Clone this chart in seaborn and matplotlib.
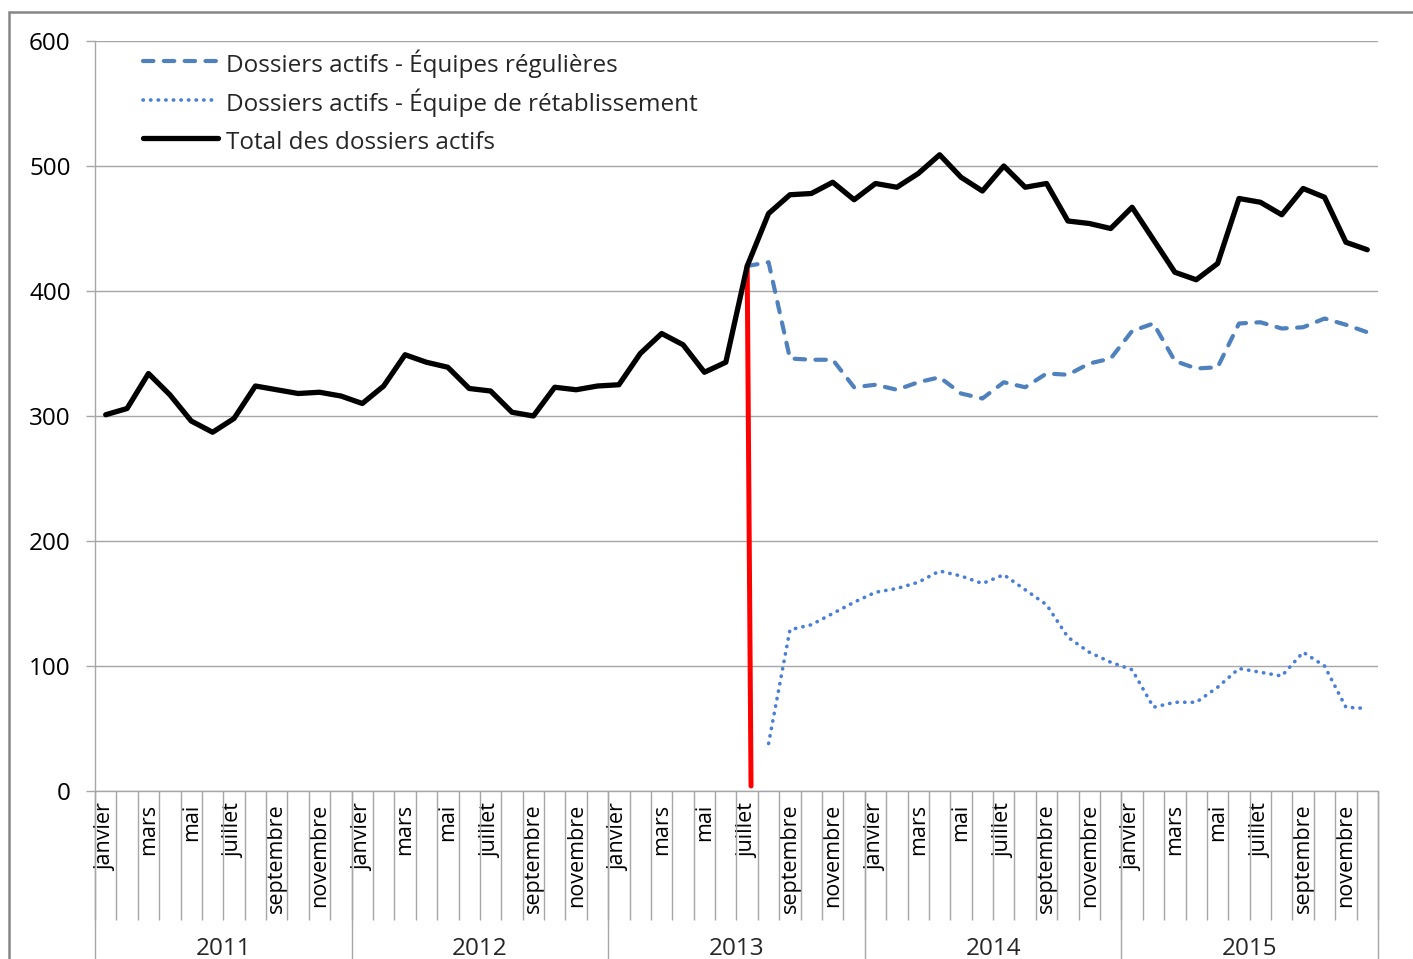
"""
Dossiers actifs par mois, 2011-2015
"""

import numpy as np
import pandas as pd
import matplotlib
matplotlib.use("Agg")
import matplotlib.pyplot as plt
import matplotlib.transforms as mtransforms
from matplotlib.patches import Rectangle
import seaborn as sns

years = ["2011", "2012", "2013", "2014", "2015"]
month_names = ["janvier", "février", "mars", "avril", "mai", "juin", "juillet",
               "août", "septembre", "octobre", "novembre", "décembre"]

total = [301, 306, 334, 317, 296, 287, 298, 324, 321, 318, 319, 316,
         310, 324, 349, 343, 339, 322, 320, 303, 300, 323, 321, 324,
         325, 350, 366, 357, 335, 343, 420, 462, 477, 478, 487, 473,
         486, 483, 494, 509, 491, 480, 500, 483, 486, 456, 454, 450,
         467, 441, 415, 409, 422, 474, 471, 461, 482, 475, 439, 433]

regular = [None] * 30 + [420, 423, 346, 345, 345, 323,
                         325, 321, 327, 331, 318, 314, 327, 323, 334, 333, 342, 346,
                         368, 374, 344, 338, 339, 374, 375, 370, 371, 378, 373, 367]

recovery = [None] * 31 + [38, 129, 133, 142, 151,
                          159, 162, 167, 176, 172, 166, 173, 161, 149, 123, 111, 103,
                          97, 67, 71, 71, 83, 98, 95, 92, 111, 100, 67, 66]

marker_month = 30  # juillet 2013

labels = ["Dossiers actifs - Équipes régulières",
          "Dossiers actifs - Équipe de rétablissement",
          "Total des dossiers actifs"]

df = pd.DataFrame({
    "idx": np.arange(len(total)),
    "total": total,
    "regular": pd.to_numeric(pd.Series(regular), errors="coerce"),
    "recovery": pd.to_numeric(pd.Series(recovery), errors="coerce"),
})

sns.set_theme(style="white")
plt.rcParams["font.family"] = ["Open Sans", "DejaVu Sans"]

W, H = 1413, 959
fig = plt.figure(figsize=(W / 100, H / 100), dpi=100)
ax = fig.add_axes([95 / W, (H - 791) / H, 1283 / W, 750 / H])

gray = "#A6A6A6"
fs = 17.5
fs_month = 15.5

# outer frame of the chart
fig.patches.append(Rectangle((9 / W, -0.1), 1.2, (H - 12) / H + 0.1,
                             transform=fig.transFigure, fill=False,
                             edgecolor="#868686", linewidth=1.8))

sns.lineplot(data=df, x="idx", y="regular", ax=ax, color="#4F81BD",
             linewidth=3.0, linestyle=(0, (2.5, 2.5)), dash_capstyle="round",
             label=labels[0], zorder=3)
sns.lineplot(data=df, x="idx", y="recovery", ax=ax, color="#4A7FD6",
             linewidth=2.6, linestyle=(0, (0.1, 2.0)), dash_capstyle="round",
             label=labels[1], zorder=3)
# red marker line at juillet 2013, slightly slanted as in the original
ax.plot([marker_month, marker_month + 0.18], [total[marker_month], 4],
        color="#FF0000", linewidth=3.6, zorder=3.5)
sns.lineplot(data=df, x="idx", y="total", ax=ax, color="black",
             linewidth=3.8, label=labels[2], zorder=4)

ax.set_xlim(-0.5, len(total) - 0.5)
ax.set_ylim(0, 600)
ax.set_yticks(range(0, 601, 100))
ax.set_xlabel("")
ax.set_ylabel("")
ax.yaxis.grid(True, color=gray, linewidth=1.0)
ax.xaxis.grid(False)
for side in ["top", "right"]:
    ax.spines[side].set_visible(False)
for side in ["left", "bottom"]:
    ax.spines[side].set_color(gray)
    ax.spines[side].set_linewidth(1.0)

ax.tick_params(axis="y", length=6.5, width=1.0, color=gray, pad=11,
               labelsize=fs, labelcolor="black", left=True)

# month labels (every other month) and month separators
tick_labels = [month_names[i % 12] if i % 2 == 0 else "" for i in range(len(total))]
ax.set_xticks(range(len(total)))
ax.set_xticklabels(tick_labels, rotation=90, va="top", ha="center")
ax.set_xticks(np.arange(-0.5, len(total), 1), minor=True)
ax.tick_params(axis="x", which="major", length=0, pad=9, labelsize=fs_month,
               labelcolor="black", bottom=True)
ax.tick_params(axis="x", which="minor", length=93, width=1.0, color=gray,
               direction="out", bottom=True)

# year groups
trans = mtransforms.blended_transform_factory(ax.transData, ax.transAxes)
for k, year in enumerate(years):
    ax.vlines(k * 12 - 0.5, -0.3, 0, transform=trans, color=gray,
              linewidth=1.0, clip_on=False)
    ax.text(k * 12 + 5.5, -0.211, year, transform=trans, ha="center",
            va="center", fontsize=fs)
ax.vlines(len(total) - 0.5, -0.3, 0, transform=trans, color=gray,
          linewidth=1.0, clip_on=False)

ax.legend(loc="upper left", bbox_to_anchor=(0.0374, 0.988), frameon=False,
          fontsize=fs, handlelength=3.1, handletextpad=0.3, handleheight=1.45,
          labelspacing=0.39, borderpad=0, borderaxespad=0)

fig.savefig("out.png", dpi=100)
